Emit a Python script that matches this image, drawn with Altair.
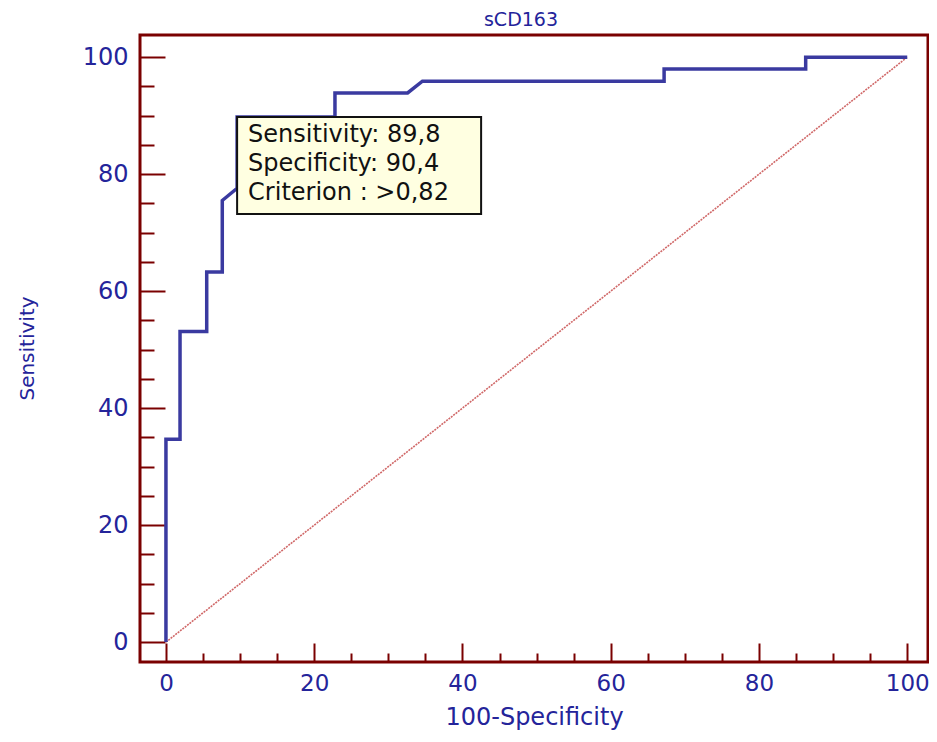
import altair as alt
import pandas as pd

# ROC curve points (100-Specificity, Sensitivity)
fpr = [0, 0, 1.9, 1.9, 5.5, 5.5, 7.6, 7.6, 9.6, 9.6, 22.8, 22.8, 32.6, 34.6, 67.2, 67.2, 86.3, 86.3, 100]
tpr = [0, 34.7, 34.7, 53.1, 53.1, 63.3, 63.3, 75.5, 77.6, 89.8, 89.8, 93.9, 93.9, 95.9, 95.9, 98.0, 98.0, 100, 100]

# reference diagonal
diag_x = [0, 100]
diag_y = [0, 100]

# criterion point and its label box
crit_fpr = [9.6]
crit_tpr = [89.8]
box_lines = ["Sensitivity: 89,8", "Specificity: 90,4", "Criterion : >0,82"]

chart_title = ["sCD163"]

major_ticks = [0, 20, 40, 60, 80, 100]
minor_ticks = [5, 10, 15, 25, 30, 35, 45, 50, 55, 65, 70, 75, 85, 90, 95]

x_domain = [-3.5, 102.8]
y_domain = [-3.4, 103.8]

FRAME = "#7A0000"
BLUE = "#24249A"
LINE = "#3A3AA0"
FONT = "DejaVu Sans"

roc_df = pd.DataFrame({"fpr": fpr, "tpr": tpr, "i": list(range(len(fpr)))})
diag_df = pd.DataFrame({"x": diag_x, "y": diag_y})
crit_df = pd.DataFrame({"fpr": crit_fpr, "tpr": crit_tpr, "label": ["\n".join(box_lines)]})
title_df = pd.DataFrame({"t": chart_title})

xs = alt.Scale(domain=x_domain, nice=False, zero=False)
ys = alt.Scale(domain=y_domain, nice=False, zero=False)

major_x = alt.Axis(
    values=major_ticks, orient="bottom", offset=-19, tickSize=19, tickColor=FRAME, tickWidth=2,
    domain=False, grid=False, labelFont=FONT, labelFontSize=23, labelColor=BLUE, labelPadding=10,
    labelFlush=False, title="100-Specificity", titleFont=FONT, titleFontSize=24, titleColor=BLUE,
    titleFontWeight="normal", titleBaseline="middle", titleY=74, titleX=394,
)
minor_x = alt.Axis(
    values=minor_ticks, orient="bottom", offset=-9, tickSize=9, tickColor=FRAME, tickWidth=2,
    domain=False, grid=False, labels=False, title=None,
)
major_y = alt.Axis(
    values=major_ticks, orient="left", offset=-25, tickSize=25, tickColor=FRAME, tickWidth=2,
    domain=False, grid=False, labelFont=FONT, labelFontSize=24, labelColor=BLUE, labelPadding=12,
    labelFlush=False, title="Sensitivity", titleFont=FONT, titleFontSize=20, titleColor=BLUE,
    titleFontWeight="normal", titleBaseline="middle", titleX=-138, titleY=313,
)
minor_y = alt.Axis(
    values=minor_ticks, orient="left", offset=-14, tickSize=14, tickColor=FRAME, tickWidth=2,
    domain=False, grid=False, labels=False, title=None,
)

diag = alt.Chart(diag_df).mark_line(color="#D06868", strokeWidth=1.6, strokeDash=[2, 1]).encode(
    x=alt.X("x:Q", scale=xs, axis=minor_x),
    y=alt.Y("y:Q", scale=ys, axis=minor_y),
)

roc = alt.Chart(roc_df).mark_line(color=LINE, strokeWidth=3.5).encode(
    x=alt.X("fpr:Q", scale=xs, axis=major_x),
    y=alt.Y("tpr:Q", scale=ys, axis=major_y),
    order=alt.Order("i:Q"),
)

box = alt.Chart(crit_df).mark_rect(
    fill="#FFFFE1", stroke="#111111", strokeWidth=2, x2Offset=244, y2Offset=97
).encode(
    x=alt.X("fpr:Q", scale=xs, axis=None),
    x2="fpr:Q",
    y=alt.Y("tpr:Q", scale=ys, axis=None),
    y2="tpr:Q",
)

text = alt.Chart(crit_df).mark_text(
    align="left", baseline="top", lineBreak="\n", lineHeight=29, dx=11, dy=6,
    font=FONT, fontSize=24, color="#111111",
).encode(
    x=alt.X("fpr:Q", scale=xs, axis=None),
    y=alt.Y("tpr:Q", scale=ys, axis=None),
    text="label:N",
)

title = alt.Chart(title_df).mark_text(
    align="center", baseline="middle", font=FONT, fontSize=19, color=BLUE,
).encode(
    x=alt.value(381),
    y=alt.value(-15),
    text="t:N",
)

chart = (
    alt.layer(diag, roc, box, text, title)
    .resolve_axis(x="independent", y="independent")
    .properties(
        width=788,
        height=627,
        padding={"left": 132, "top": 27, "right": 1, "bottom": 72},
        autosize=alt.AutoSizeParams(type="none"),
    )
    .configure_view(stroke=FRAME, strokeWidth=3)
)

chart.save("out.html", embed_options={"renderer": "svg", "actions": False})
